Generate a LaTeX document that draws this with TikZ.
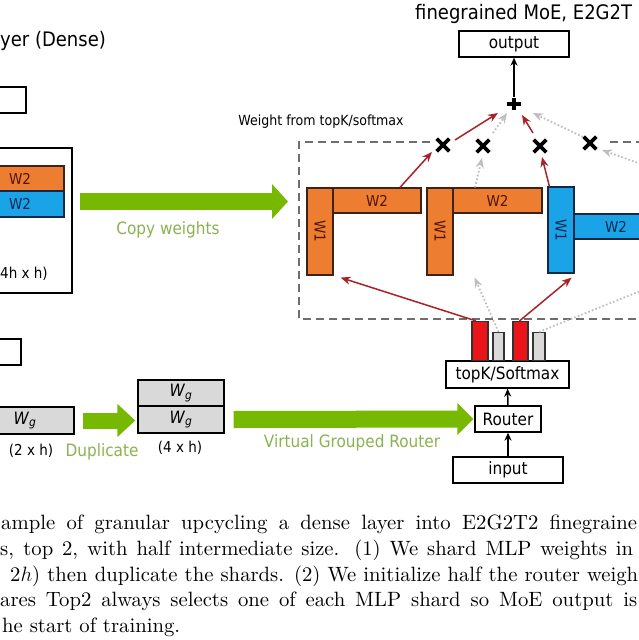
\documentclass[tikz,border=0pt]{standalone}
\usepackage{fontspec}
\newfontfamily\dfont{DejaVu Sans}[FakeStretch=0.9]
\newfontfamily\capfont{lmroman10-regular}[Extension=.otf, ItalicFont=lmroman10-italic]
\usetikzlibrary{arrows.meta,shapes.misc}
\definecolor{orgC}{RGB}{237,125,49}
\definecolor{orgB}{RGB}{60,35,20}
\definecolor{bluC}{RGB}{27,163,232}
\definecolor{bluB}{RGB}{20,40,70}
\definecolor{grnC}{RGB}{118,185,0}
\definecolor{grnT}{RGB}{140,178,80}
\definecolor{redA}{RGB}{168,35,40}
\definecolor{redC}{RGB}{235,20,25}
\definecolor{dotG}{RGB}{190,190,190}
\definecolor{dashG}{RGB}{110,110,110}
\definecolor{wgG}{RGB}{217,217,217}
\definecolor{orgT}{RGB}{80,20,10}
\definecolor{bluT}{RGB}{10,40,80}
\begin{document}
\begin{tikzpicture}[x=1pt,y=-1pt,
  bx/.style={draw, line width=1.3pt, inner sep=0pt, font=\dfont\fontsize{17}{17}\selectfont},
  obar/.style={draw=orgB, fill=orgC, line width=1.2pt, inner sep=0pt, text=orgT, font=\dfont\fontsize{15}{15}\selectfont},
  bbar/.style={draw=bluB, fill=bluC, line width=1.2pt, inner sep=0pt, text=bluT, font=\dfont\fontsize{15}{15}\selectfont},
  wtxt/.style={inner sep=0pt, font=\dfont\fontsize{15}{15}\selectfont},
  wgbox/.style={draw, fill=wgG, line width=1.3pt, inner sep=0pt, font=\dfont\fontsize{17}{17}\selectfont},
  lbl/.style={inner sep=0pt, font=\dfont\fontsize{15}{15}\selectfont},
  glbl/.style={inner sep=0pt, text=grnT, font=\dfont\fontsize{17}{17}\selectfont},
  garrow/.style={draw=grnC, line width=17pt, -{Triangle[length=16pt,width=34pt]}},
  rbar/.style={draw=black!80, fill=redC, line width=1.1pt, inner sep=0pt, anchor=south},
  gbar/.style={draw=black!80, fill=wgG, line width=1.1pt, inner sep=0pt, anchor=south},
  xmark/.style={cross out, draw=black, line width=3.6pt, minimum size=9pt, inner sep=0pt},
  rarr/.style={draw=redA, line width=1.5pt, -{Stealth[length=10pt,width=8pt]}},
  garr/.style={draw=dotG, line width=1.8pt, dash pattern=on 1.6pt off 2.2pt, -{Stealth[length=10pt,width=8pt]}},
  barr/.style={draw=black, line width=1.5pt, -{Stealth[length=8pt,width=7pt]}},
  dbox/.style={draw=dashG, line width=1.5pt, dash pattern=on 8pt off 5pt},
  captxt/.style={inner sep=0pt, anchor=base west, font=\capfont\fontsize{20.7}{25}\selectfont}
]
\useasboundingbox (0,0) rectangle (639,640);
\fill[white] (0,0) rectangle (639,640);

% titles
\node[anchor=west, inner sep=0pt, font=\dfont\fontsize{20}{20}\selectfont] (t1) at (0,41) {yer (Dense)};
\node[anchor=west, inner sep=0pt, font=\dfont\fontsize{20}{20}\selectfont] (t2) at (415,14) {finegrained MoE, E2G2T};

% left dense part
\node[bx, minimum width=66pt, minimum height=26pt] (lbox1) at (-7,100) {};
\node[bx, minimum width=112pt, minimum height=145pt] (dense) at (16,220.5) {};
\node[obar, minimum width=88pt, minimum height=25pt] (dw2a) at (20,178.5) {W2};
\node[bbar, minimum width=88pt, minimum height=26pt] (dw2b) at (20,204) {W2};
\node[lbl, anchor=west] (dsz) at (0,274) {4h x h)};
\node[bx, minimum width=61pt, minimum height=26pt] (lbox2) at (-9.5,352) {};

% router weights
\node[wgbox, minimum width=98pt, minimum height=27pt] (wg) at (25,420.5) {\textit{W}\textsubscript{\textit{g}}};
\node[lbl] (wgsz) at (31,451) {(2 x h)};
\node[wgbox, minimum width=86pt, minimum height=26pt] (wgA) at (181,393) {\textit{W}\textsubscript{\textit{g}}};
\node[wgbox, minimum width=86pt, minimum height=27pt] (wgB) at (181,419.5) {\textit{W}\textsubscript{\textit{g}}};
\node[lbl] (wg4sz) at (180,448) {(4 x h)};

% right column boxes
\node[bx, minimum width=110pt, minimum height=26pt] (out) at (514,44) {output};
\node[bx, minimum width=123pt, minimum height=27pt] (topk) at (507.5,374.5) {topK/Softmax};
\node[bx, minimum width=66pt, minimum height=26pt] (router) at (508,419) {Router};
\node[bx, minimum width=110pt, minimum height=26pt] (inp) at (508,470) {input};

% green arrows
\coordinate (cwS) at (80,201.5);
\coordinate (cwE) at (288,201.5);
\draw[garrow] (cwS) -- (cwE);
\node[glbl] (cwl) at (168,230) {Copy weights};
\draw[garrow, line width=16pt, -{Triangle[length=18pt,width=32pt]}] ([xshift=8pt]wg.east) -- ([xshift=-2pt]wg.east -| wgB.west);
\node[glbl] (dupl) at (102,452) {Duplicate};
\draw[garrow, -{Triangle[length=16pt,width=31pt]}] ([xshift=9pt]wgB.east) -- ([xshift=-1pt]router.west);
\node[glbl] (vgr) at (352,443) {Virtual Grouped Router};

% dashed MoE frame
\draw[dbox] (430,142) -- (299,142) -- (299,319) -- (700,319);
\draw[dbox] (610,142) -- (700,142);
\node[inner sep=0pt, font=\dfont\fontsize{14}{14}\selectfont] (wlab) at (321,122) {Weight from topK/softmax};

% experts
\node[obar, minimum width=88pt, minimum height=25pt] (e1w2) at (377,200.5) {W2};
\node[obar, minimum width=26pt, minimum height=87pt] (e1w1) at (320,231.5) {};
\node[wtxt, rotate=-90, text=orgT] at (e1w1) {W1};
\node[obar, minimum width=89pt, minimum height=25pt] (e2w2) at (497.5,200.5) {W2};
\node[obar, minimum width=26pt, minimum height=87pt] (e2w1) at (440,231.5) {};
\node[wtxt, rotate=-90, text=orgT] at (e2w1) {W1};
\node[bbar, minimum width=88pt, minimum height=25pt] (e3w2) at (618,226.5) {};
\node[wtxt, text=bluT] at (616,227) {W2};
\node[bbar, minimum width=26pt, minimum height=86pt] (e3w1) at (561,230) {};
\node[wtxt, rotate=-90, text=bluT] at (e3w1) {W1};

% gate bars
\node[rbar, minimum width=16pt, minimum height=39pt] (rb1) at (480,361) {};
\node[gbar, minimum width=11pt, minimum height=28pt] (gb1) at (498.5,361) {};
\node[rbar, minimum width=15pt, minimum height=39pt] (rb2) at (520.5,361) {};
\node[gbar, minimum width=12pt, minimum height=28pt] (gb2) at (539,361) {};

% crosses and plus
\node[xmark] (x1) at (443,145) {};
\node[xmark] (x2) at (483,146) {};
\node[xmark] (x3) at (540,146) {};
\node[xmark] (x4) at (590,143) {};
\coordinate (plus) at (514,104);
\draw[line width=4pt] ([xshift=-7pt]plus) -- ([xshift=7pt]plus);
\draw[line width=4pt] ([yshift=-6pt]plus) -- ([yshift=6pt]plus);

% black arrows
\draw[barr] (inp.north) -- (router.south);
\draw[barr] (router.north) -- (topk.south);
\draw[barr] ([yshift=7pt]plus) -- (out.south);

% red arrows
\draw[rarr] ([xshift=-4pt]rb1.north) -- ([xshift=7pt,yshift=-2pt]e1w1.south east);
\draw[rarr] ([xshift=-1pt]rb2.north) -- ([xshift=-3pt,yshift=-4pt]e3w1.south east);
\draw[rarr] ([xshift=23pt]e1w2.north) -- ([xshift=-11pt,yshift=-7pt]x1.center);
\draw[rarr] ([xshift=2pt]e3w1.north west) -- ([xshift=2pt,yshift=-11pt]x3.center);
\draw[rarr] ([xshift=12pt,yshift=5pt]x1.center) -- ([xshift=-16pt,yshift=-9pt]plus);
\draw[rarr] ([xshift=-7pt,yshift=13pt]x3.center) -- ([xshift=8pt,yshift=-11pt]plus);

% gray dotted arrows
\coordinate (offR1) at (680,275);
\coordinate (offR2) at (680,178);
\draw[garr] (gb1.north) -- ([xshift=21pt,yshift=-2pt]e2w1.south east);
\draw[garr, -] (gb2.north) -- (offR1);
\draw[garr] ([xshift=-22.5pt]e2w2.north) -- ([xshift=-1pt,yshift=-12pt]x2.center);
\draw[garr] ([xshift=10pt,yshift=13pt]x2.center) -- ([xshift=-7pt,yshift=-9pt]plus);
\draw[garr] ([xshift=-7pt,yshift=6pt]x4.center) -- ([xshift=19pt,yshift=-9pt]plus);
\draw[garr] (offR2) -- ([xshift=12pt,yshift=-7pt]x4.center);

% caption
\node[captxt] (c1) at (1,529) {\hbox to 636pt{ample of granular upcycling a dense layer into E2G2T2 finegraine}};
\node[captxt] (c2) at (0,555) {\hbox to 633pt{s, top 2, with half intermediate size. (1) We shard MLP weights in}};
\node[captxt] (c3) at (10,581) {\hbox to 628pt{2$h$) then duplicate the shards. (2) We initialize half the router weigh}};
\node[captxt] (c4) at (0,606) {\hbox to 637pt{ares Top2 always selects one of each MLP shard so MoE output is}};
\node[captxt] (c5) at (2,632) {he start of training.};
\end{tikzpicture}
\end{document}
